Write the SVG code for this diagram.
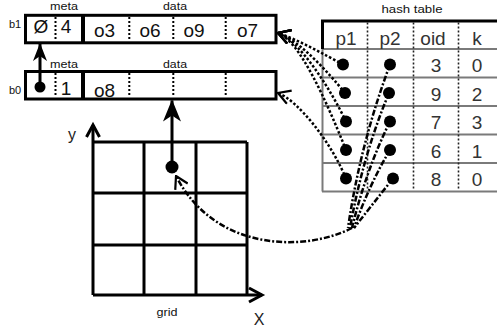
<svg xmlns="http://www.w3.org/2000/svg" width="497" height="332" viewBox="0 0 497 332">
<style>
.lbl{font-family:"Liberation Sans",Arial,sans-serif;font-size:11px;fill:#111;text-anchor:middle}
.big{font-family:"Liberation Sans",Arial,sans-serif;font-size:19px;fill:#111;text-anchor:middle}
.tv{font-family:"Liberation Sans",Arial,sans-serif;font-size:19px;fill:#333;text-anchor:middle}
.ax{font-family:"Liberation Sans",Arial,sans-serif;font-size:16px;fill:#222;text-anchor:middle}
.box{fill:#fff;stroke:#000;stroke-width:3}
.sep{stroke:#000;stroke-width:4}
.dv{stroke:#000;stroke-width:2;stroke-dasharray:2 2}
.tdv{stroke:#222;stroke-width:1.6;stroke-dasharray:2 2}
.row{stroke:#7a7a7a;stroke-width:2;fill:none}
.grid{stroke:#000;stroke-width:3;fill:none}
.dot{fill:#000}
.p1{fill:none;stroke:#000;stroke-width:2.5;stroke-dasharray:2.5 2}
.p2{fill:none;stroke:#000;stroke-width:2.5;stroke-dasharray:6 2 2 2}
.solid{fill:none;stroke:#000;stroke-width:3}
</style>
<defs>
<marker id="openA" viewBox="0 0 14 16" refX="13" refY="8" markerWidth="14" markerHeight="16" markerUnits="userSpaceOnUse" orient="auto">
<path d="M1,1 L13,8 L1,15" fill="none" stroke="#000" stroke-width="2.2"/>
</marker>
<marker id="solidS" viewBox="0 0 18 14" refX="17" refY="7" markerWidth="18" markerHeight="14" markerUnits="userSpaceOnUse" orient="auto">
<path d="M0,0 L18,7 L0,14 L5,7 z" fill="#000"/>
</marker>
<marker id="solidL" viewBox="0 0 22 18" refX="21" refY="9" markerWidth="22" markerHeight="18" markerUnits="userSpaceOnUse" orient="auto">
<path d="M0,0 L22,9 L0,18 L6,9 z" fill="#000"/>
</marker>
</defs>

<g id="b1">
<text class="lbl" x="15" y="27.5">b1</text>
<text class="lbl" x="64" y="9.5" textLength="28" lengthAdjust="spacingAndGlyphs">meta</text>
<text class="lbl" x="175" y="9.5" textLength="24" lengthAdjust="spacingAndGlyphs">data</text>
<rect class="box" x="25.5" y="15.3" width="250.5" height="27.5"/>
<line class="sep" x1="83" y1="15.3" x2="83" y2="42.8"/>
<line class="dv" x1="55.5" y1="17" x2="55.5" y2="41"/>
<line class="dv" x1="129.3" y1="17" x2="129.3" y2="41"/>
<line class="dv" x1="173.3" y1="17" x2="173.3" y2="41"/>
<line class="dv" x1="225.7" y1="17" x2="225.7" y2="41"/>
<text class="big" x="41" y="32.5">Ø</text>
<text class="big" x="66" y="32.5">4</text>
<text class="big" x="104.5" y="37">o3</text>
<text class="big" x="150" y="37">o6</text>
<text class="big" x="194" y="37">o9</text>
<text class="big" x="247.5" y="37">o7</text>
</g>

<g id="b0">
<text class="lbl" x="15" y="93.5">b0</text>
<text class="lbl" x="64" y="67.5" textLength="28" lengthAdjust="spacingAndGlyphs">meta</text>
<text class="lbl" x="175" y="67.5" textLength="24" lengthAdjust="spacingAndGlyphs">data</text>
<rect class="box" x="25.5" y="71.5" width="250.5" height="27.5"/>
<line class="sep" x1="83" y1="71.5" x2="83" y2="99"/>
<line class="dv" x1="55.5" y1="73" x2="55.5" y2="97"/>
<line class="dv" x1="129.3" y1="73" x2="129.3" y2="97"/>
<line class="dv" x1="173.3" y1="73" x2="173.3" y2="97"/>
<line class="dv" x1="225.7" y1="73" x2="225.7" y2="97"/>
<circle class="dot" cx="40" cy="87" r="5.5"/>
<text class="big" x="66" y="94.5">1</text>
<text class="big" x="104.5" y="97">o8</text>
</g>

<g id="hash-table">
<text class="lbl" x="412" y="12.5" textLength="61" lengthAdjust="spacingAndGlyphs">hash table</text>
<line class="row" x1="322" y1="49" x2="497" y2="49"/>
<line class="row" x1="322" y1="77.5" x2="497" y2="77.5"/>
<line class="row" x1="322" y1="106" x2="497" y2="106"/>
<line class="row" x1="322" y1="134.5" x2="497" y2="134.5"/>
<line class="row" x1="322" y1="163" x2="497" y2="163"/>
<line class="row" x1="322" y1="191.5" x2="497" y2="191.5"/>
<line class="row" x1="322.5" y1="49" x2="322.5" y2="191.5"/>
<path d="M322.5,49 L322.5,21 L497,21" fill="none" stroke="#000" stroke-width="3"/>
<line class="tdv" x1="367.5" y1="22.5" x2="367.5" y2="190.5"/>
<line class="tdv" x1="413.5" y1="22.5" x2="413.5" y2="190.5"/>
<line class="tdv" x1="458.5" y1="22.5" x2="458.5" y2="190.5"/>
<text class="tv" x="346" y="44.5">p1</text>
<text class="tv" x="390" y="44.5">p2</text>
<text class="tv" x="433" y="44.5">oid</text>
<text class="tv" x="477" y="44.5">k</text>
<text class="tv" x="436" y="72">3</text><text class="tv" x="477" y="72">0</text>
<text class="tv" x="436" y="100.5">9</text><text class="tv" x="477" y="100.5">2</text>
<text class="tv" x="436" y="129">7</text><text class="tv" x="477" y="129">3</text>
<text class="tv" x="436" y="157.5">6</text><text class="tv" x="477" y="157.5">1</text>
<text class="tv" x="436" y="186">8</text><text class="tv" x="477" y="186">0</text>
<circle class="dot" cx="343" cy="64.5" r="6"/><circle class="dot" cx="390" cy="64.5" r="6"/>
<circle class="dot" cx="345" cy="93" r="6"/><circle class="dot" cx="389" cy="93" r="6"/>
<circle class="dot" cx="346" cy="121.5" r="6"/><circle class="dot" cx="390" cy="121.5" r="6"/>
<circle class="dot" cx="346" cy="150" r="6"/><circle class="dot" cx="390" cy="150" r="6"/>
<circle class="dot" cx="346" cy="178.5" r="6"/><circle class="dot" cx="393" cy="178.5" r="6"/>
</g>

<g id="grid">
<line class="grid" x1="93" y1="142" x2="247" y2="142"/>
<line class="grid" x1="93" y1="193" x2="247" y2="193"/>
<line class="grid" x1="93" y1="245" x2="247" y2="245"/>
<line class="grid" x1="144" y1="142" x2="144" y2="295"/>
<line class="grid" x1="196" y1="142" x2="196" y2="295"/>
<line class="grid" x1="247" y1="142" x2="247" y2="295"/>
<line class="grid" x1="93" y1="295" x2="262" y2="295"/>
<line class="grid" x1="93" y1="295" x2="93" y2="125"/>
<path class="grid" d="M86.5,137 L93,125 L99.5,137"/>
<path class="grid" d="M249,288 L262,295 L249,302"/>
<text class="ax" x="72" y="140">y</text>
<text class="ax" x="259" y="325">X</text>
<text class="lbl" x="167" y="316" textLength="21" lengthAdjust="spacingAndGlyphs">grid</text>
<circle class="dot" cx="172" cy="167" r="6.5"/>
</g>

<g id="connectors">
<line class="solid" x1="40" y1="87" x2="40" y2="44" marker-end="url(#solidS)"/>
<line class="solid" x1="172" y1="167" x2="172" y2="100.5" marker-end="url(#solidL)"/>
<path class="p1" d="M343,64.5 C325,55 299,40 278,33" marker-end="url(#openA)"/>
<path class="p1" d="M345,93 C328,72 299,40 278,33" marker-end="url(#openA)"/>
<path class="p1" d="M346,121.5 C330,88 299,40 278,33" marker-end="url(#openA)"/>
<path class="p1" d="M346,150 C326,100 299,40 278,33" marker-end="url(#openA)"/>
<path class="p1" d="M346,178.5 C330,140 297,100 278,93" marker-end="url(#openA)"/>
<path class="p2" d="M390,64.5 Q360,145 348,228"/>
<path class="p2" d="M389,93 Q363,155 350,228"/>
<path class="p2" d="M390,121.5 Q366,170 352,228"/>
<path class="p2" d="M390,150 Q369,185 354,228"/>
<path class="p2" d="M393,178.5 Q372,205 354,228"/>
<path class="p2" d="M352,228 C305,252 215,252 176,176" marker-end="url(#openA)"/>
</g>
</svg>
